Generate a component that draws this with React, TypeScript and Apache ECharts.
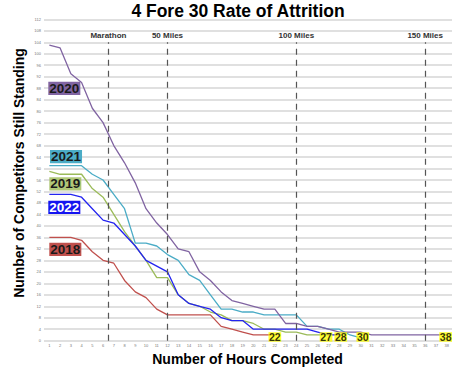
import React, { useEffect, useRef } from 'react';
import * as echarts from 'echarts';

const hours = [1, 2, 3, 4, 5, 6, 7, 8, 9, 10, 11, 12, 13, 14, 15, 16, 17, 18, 19, 20, 21, 22, 23, 24, 25, 26, 27, 28, 29, 30, 31, 32, 33, 34, 35, 36, 37, 38];

const y2018 = [36, 36, 36, 35, 31, 28, 27, 21, 17, 15, 11, 9, 9, 9, 9, 9, 5, 4, 3, 2, 2, 2];
const y2019 = [59, 58, 58, 58, 53, 50, 44, 38, 33, 28, 22, 22, 16, 13, 12, 10, 9, 7, 7, 6, 4, 4, 3, 3, 2, 2, 2];
const y2020 = [103, 102, 93, 90, 81, 76, 68, 62, 55, 46, 41, 37, 32, 31, 24, 21, 17, 14, 13, 12, 11, 11, 6, 6, 5, 5, 4, 3, 3, 3, 2, 2, 2, 2, 2, 2, 2, 2];
const y2021 = [61, 61, 61, 61, 58, 56, 51, 46, 34, 34, 33, 30, 28, 23, 21, 16, 11, 11, 10, 10, 9, 9, 9, 9, 5, 5, 4, 4, 2, 1];
const y2022 = [51, 51, 51, 50, 46, 42, 41, 37, 33, 28, 26, 24, 16, 13, 12, 11, 8, 7, 7, 4, 4, 4, 4, 4, 4, 3, 2, 2];

const finishHours = [22, 27, 28, 30, 38];

const milestoneNames = ['Marathon', '50 Miles', '100 Miles', '150 Miles'];
const milestoneHours = [6.5, 12, 24, 36];

export default function App() {
  const ref = useRef<HTMLDivElement>(null);

  useEffect(() => {
    document.body.style.margin = '0';
    const chart = echarts.init(ref.current!, null, { renderer: 'svg' });
    const FONT = "'Liberation Sans', Arial, sans-serif";
    const toPairs = (vals: number[]) => vals.map((v, i) => [hours[i], v]);

    const seriesDefs = [
      { name: '2018', data: y2018, color: '#c0504d' },
      { name: '2019', data: y2019, color: '#9bbb59' },
      { name: '2022', data: y2022, color: '#2424f0' },
      { name: '2021', data: y2021, color: '#4bacc6' },
      { name: '2020', data: y2020, color: '#8064a2' },
    ];

    const yearBoxes = [
      { text: '2020', x: 48.3, y: 81.7, bg: '#8064a2', fg: '#1a1a1a' },
      { text: '2021', x: 50, y: 150, bg: '#4bacc6', fg: '#1a1a1a' },
      { text: '2019', x: 49.3, y: 177.3, bg: '#b0c878', fg: '#1a1a1a' },
      { text: '2022', x: 48.3, y: 200.7, bg: '#1414f0', fg: '#ffffff' },
      { text: '2018', x: 49.3, y: 242.7, bg: '#c0504d', fg: '#1a1a1a' },
    ];

    const LABEL_Y = 1.3;
    const labelShift = [0, -2.5, 1.5, 2, -1];

    const option: any = {
      animation: false,
      grid: { left: 44, right: 16, top: 19.3, bottom: 36.3 },
      xAxis: {
        type: 'value',
        min: 0.5,
        max: 38.5,
        axisLine: { show: false },
        axisTick: { show: false },
        splitLine: { show: false },
        axisLabel: { customValues: hours, fontSize: 4, color: '#777', margin: 3, fontFamily: FONT },
      },
      yAxis: {
        type: 'value',
        min: 0,
        max: 112,
        interval: 4,
        axisLine: { show: false },
        axisTick: { show: false },
        axisLabel: { fontSize: 4, color: '#777', margin: 3, fontFamily: FONT },
        splitLine: { lineStyle: { color: '#d6d6d6', width: 1.5 } },
      },
      series: [
        ...seriesDefs.map((s, idx) => ({
          type: 'line',
          name: s.name,
          data: toPairs(s.data),
          showSymbol: false,
          symbol: 'none',
          lineStyle: { color: s.color, width: 1.3 },
          itemStyle: { color: s.color },
          z: 2,
          markLine: idx === 0 ? {
            silent: true,
            symbol: ['none', 'none'],
            lineStyle: { type: [6, 5], color: '#555', width: 1.2 },
            label: {
              position: 'end',
              formatter: '{b}',
              fontSize: 8,
              fontWeight: 'bold',
              color: '#333',
              distance: 3,
              fontFamily: FONT,
            },
            data: milestoneHours.map((h, i) => [
              { name: milestoneNames[i], coord: [h, 0] },
              { coord: [h, 104] },
            ]),
          } : undefined,
        })),
        {
          type: 'scatter',
          data: finishHours.map((h, i) => ({
            value: [h, LABEL_Y],
            label: { offset: [labelShift[i], 0] },
          })),
          symbol: 'circle',
          symbolSize: 1,
          itemStyle: { color: 'transparent' },
          z: 5,
          label: {
            show: true,
            position: 'inside',
            formatter: (p: any) => String(p.value[0]),
            backgroundColor: '#ffff00',
            color: '#000',
            fontWeight: 'bold',
            fontSize: 10.5,
            lineHeight: 9.5,
            padding: [0, 0.5],
            fontFamily: FONT,
          },
        },
      ],
      graphic: [
        {
          type: 'text', x: 238, y: 10.5,
          style: { text: '4 Fore 30 Rate of Attrition', font: `bold 17.5px ${FONT}`, fill: '#000', textAlign: 'center', textVerticalAlign: 'middle' },
        },
        {
          type: 'text', x: 19, y: 173, rotation: Math.PI / 2,
          style: { text: 'Number of Competitors Still Standing', font: `bold 14px ${FONT}`, fill: '#000', textAlign: 'center', textVerticalAlign: 'middle' },
        },
        {
          type: 'text', x: 247.5, y: 359,
          style: { text: 'Number of Hours Completed', font: `bold 14px ${FONT}`, fill: '#000', textAlign: 'center', textVerticalAlign: 'middle' },
        },
        ...yearBoxes.map((b) => ({
          type: 'text', x: b.x, y: b.y, z: 10,
          style: {
            text: b.text, font: `bold 13.5px ${FONT}`, fill: b.fg,
            backgroundColor: b.bg, padding: [0, 1, 0, 1], lineHeight: 13.3,
            textAlign: 'left', textVerticalAlign: 'top',
          },
        })),
      ],
    };

    chart.setOption(option);
    return () => chart.dispose();
  }, []);

  return <div ref={ref} style={{ width: 468, height: 377 }} />;
}
